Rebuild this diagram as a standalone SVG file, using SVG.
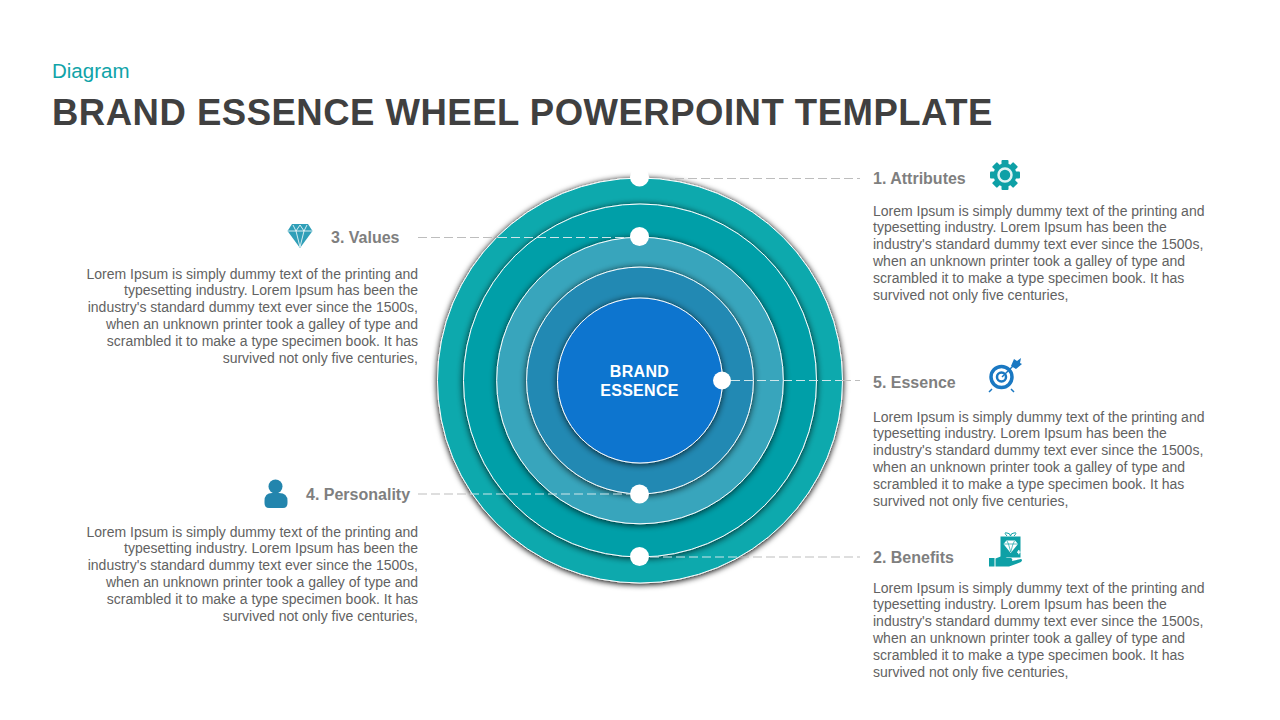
<svg xmlns="http://www.w3.org/2000/svg" width="1280" height="720" viewBox="0 0 1280 720">
<defs>
<filter id="sh" x="-15%" y="-15%" width="130%" height="130%"><feGaussianBlur in="SourceAlpha" stdDeviation="3.500"/><feOffset dx="0" dy="1"/><feComponentTransfer><feFuncA type="linear" slope="0.8"/></feComponentTransfer><feMerge><feMergeNode/><feMergeNode in="SourceGraphic"/></feMerge></filter>
<filter id="sho" x="-15%" y="-15%" width="130%" height="130%"><feGaussianBlur in="SourceAlpha" stdDeviation="3"/><feOffset dx="0" dy="1"/><feComponentTransfer><feFuncA type="linear" slope="1.100"/></feComponentTransfer><feMerge><feMergeNode/><feMergeNode in="SourceGraphic"/></feMerge></filter>
</defs>
<style>
.ring{stroke:#fff;stroke-width:1;filter:url(#sh)}
.outer{stroke:#fff;stroke-width:1;filter:url(#sho)}
.dot{fill:#fff}
.dg{fill:none;stroke:#bdbdbd;stroke-width:1;stroke-dasharray:9 4}
.dw{fill:none;stroke:#cfe6ea;stroke-width:1;stroke-dasharray:9 4}
.h{font:bold 16px "Liberation Sans",Arial,sans-serif;fill:#7f7f7f}
.b{font:14px "Liberation Sans",Arial,sans-serif;fill:#626262}
.r{text-anchor:end}
</style>
<rect width="1280" height="720" fill="#fff"/>
<text x="52" y="77.500" font-family="'Liberation Sans',Arial,sans-serif" font-size="20.500" fill="#0fa3a8">Diagram</text>
<text x="52" y="125" font-family="'Liberation Sans',Arial,sans-serif" font-size="36.500" letter-spacing="0.500" font-weight="bold" fill="#404040">BRAND ESSENCE WHEEL POWERPOINT TEMPLATE</text>
<g id="wheel">
<circle class="outer" cx="640" cy="380.500" r="202.500" fill="#07a9ad"/>
<circle class="ring" cx="640" cy="380.500" r="176.500" fill="#049fa8"/>
<circle class="ring" cx="640" cy="380.500" r="143.300" fill="#37a5bc"/>
<circle class="ring" cx="640" cy="380.500" r="113.400" fill="#2189b3"/>
<circle class="ring" cx="640" cy="380.500" r="82.500" fill="#1174cf"/>
<text x="639.500" y="376.500" text-anchor="middle" font-family="'Liberation Sans',Arial,sans-serif" font-size="16" letter-spacing="0.300" font-weight="bold" fill="#fff">BRAND</text>
<text x="639.500" y="396" text-anchor="middle" font-family="'Liberation Sans',Arial,sans-serif" font-size="16" letter-spacing="0.300" font-weight="bold" fill="#fff">ESSENCE</text>
</g>
<g id="connectors">
<path class="dg" d="M662 178.500H860"/>
<path class="dg" d="M418 237.500H498"/>
<path class="dw" d="M498 237.500H630"/>
<path class="dg" d="M418 494H470"/>
<path class="dw" d="M470 494H630"/>
<path class="dw" d="M731 380.500H842"/>
<path class="dg" d="M842 380.500H860"/>
<path class="dw" d="M650 557H740"/>
<path class="dg" d="M740 557H860"/>
</g>
<g id="dots">
<circle class="dot" cx="639.500" cy="177" r="9.500"/>
<circle class="dot" cx="639.500" cy="236.500" r="9.500"/>
<circle class="dot" cx="722" cy="380.500" r="9"/>
<circle class="dot" cx="639.500" cy="494" r="9.500"/>
<circle class="dot" cx="639.500" cy="556.500" r="9.500"/>
</g>
<g id="node-attributes">
<text class="h" x="873" y="184">1. Attributes</text>
<g fill="#0ea0a6" transform="translate(1005 175)">
<rect x="-3.500" y="-15" width="7" height="30" rx="1"/><rect x="-3.500" y="-15" width="7" height="30" rx="1" transform="rotate(45)"/><rect x="-3.500" y="-15" width="7" height="30" rx="1" transform="rotate(90)"/><rect x="-3.500" y="-15" width="7" height="30" rx="1" transform="rotate(135)"/>
<circle r="11.500"/><circle r="6.500" fill="none" stroke="#dff3f3" stroke-width="2.500"/>
</g>
<text class="b"><tspan x="873" y="216">Lorem Ipsum is simply dummy text of the printing and</tspan><tspan x="873" y="232">typesetting industry. Lorem Ipsum has been the</tspan><tspan x="873" y="249">industry's standard dummy text ever since the 1500s,</tspan><tspan x="873" y="266">when an unknown printer took a galley of type and</tspan><tspan x="873" y="283">scrambled it to make a type specimen book. It has</tspan><tspan x="873" y="300">survived not only five centuries,</tspan></text>
</g>
<g id="node-essence">
<text class="h" x="873" y="388">5. Essence</text>
<g fill="none" stroke="#1a78c2">
<circle cx="1001.500" cy="377" r="10.500" stroke-width="3.500"/>
<circle cx="1001.500" cy="377" r="4.500" stroke-width="2.500"/>
<path d="M1002 377L1014 365" stroke-width="1.500"/>
<path d="M992 389L989 392M1011 389L1014 392" stroke-width="1.500"/>
</g>
<path d="M1011 366L1014 359L1017 361L1021 358L1020 363L1022 364L1016 369Z" fill="#1a78c2"/>
<text class="b"><tspan x="873" y="422">Lorem Ipsum is simply dummy text of the printing and</tspan><tspan x="873" y="438">typesetting industry. Lorem Ipsum has been the</tspan><tspan x="873" y="455">industry's standard dummy text ever since the 1500s,</tspan><tspan x="873" y="472">when an unknown printer took a galley of type and</tspan><tspan x="873" y="489">scrambled it to make a type specimen book. It has</tspan><tspan x="873" y="506">survived not only five centuries,</tspan></text>
</g>
<g id="node-benefits">
<text class="h" x="873" y="563">2. Benefits</text>
<g fill="#0ea0a6">
<rect x="1000.500" y="536.500" width="20" height="21"/>
<path d="M1007 536Q1003 532 1007 533Q1010 533 1010.500 536Q1011 533 1014 533Q1018 532 1014 536" fill="none" stroke="#0ea0a6"/>
<path d="M989 558h5.500v8.500h-5.500zM995.500 558.500L1002 556Q1005 556 1007 558L1011 558Q1013 559 1012 561L1021 559Q1023 560 1021 562L1009 566.500H995.500Z"/>
<path d="M1003.500 544L1006.500 540.500H1015L1018 544L1010.700 553Z" fill="#fff"/>
<path d="M1003.500 544H1018M1007 541L1008.500 544L1010.700 552L1013 544L1014.500 541" fill="none" stroke="#0ea0a6" stroke-width="0.700"/>
<path d="M1017 551.500h1.200v-1.500h1.200v1.500h1.200v1.200h-1.200v1.500h-1.200v-1.500h-1.200z" fill="#fff"/>
</g>
<text class="b"><tspan x="873" y="593">Lorem Ipsum is simply dummy text of the printing and</tspan><tspan x="873" y="609">typesetting industry. Lorem Ipsum has been the</tspan><tspan x="873" y="626">industry's standard dummy text ever since the 1500s,</tspan><tspan x="873" y="643">when an unknown printer took a galley of type and</tspan><tspan x="873" y="660">scrambled it to make a type specimen book. It has</tspan><tspan x="873" y="677">survived not only five centuries,</tspan></text>
</g>
<g id="node-values">
<text class="h" x="331" y="243">3. Values</text>
<path d="M292 224H308L312.500 231L300 248L287.500 231Z" fill="#2f9fb8"/>
<path d="M288 231H312M293 225L296 231L300 247L304 231L307 225M296 231L300 225L304 231" fill="none" stroke="#fff" stroke-width="0.800"/>
<text class="b r"><tspan x="418" y="279">Lorem Ipsum is simply dummy text of the printing and</tspan><tspan x="418" y="295">typesetting industry. Lorem Ipsum has been the</tspan><tspan x="418" y="312">industry's standard dummy text ever since the 1500s,</tspan><tspan x="418" y="329">when an unknown printer took a galley of type and</tspan><tspan x="418" y="346">scrambled it to make a type specimen book. It has</tspan><tspan x="418" y="363">survived not only five centuries,</tspan></text>
</g>
<g id="node-personality">
<text class="h" x="306" y="500">4. Personality</text>
<circle cx="275.500" cy="486.500" r="7" fill="#2385ad"/>
<path d="M264.500 503V501Q264.500 493 272 493H279Q287.500 493 287.500 501V503Q287.500 508 283 508H269Q264.500 508 264.500 503Z" fill="#2385ad"/>
<text class="b r"><tspan x="418" y="537">Lorem Ipsum is simply dummy text of the printing and</tspan><tspan x="418" y="553">typesetting industry. Lorem Ipsum has been the</tspan><tspan x="418" y="570">industry's standard dummy text ever since the 1500s,</tspan><tspan x="418" y="587">when an unknown printer took a galley of type and</tspan><tspan x="418" y="604">scrambled it to make a type specimen book. It has</tspan><tspan x="418" y="621">survived not only five centuries,</tspan></text>
</g>
</svg>
